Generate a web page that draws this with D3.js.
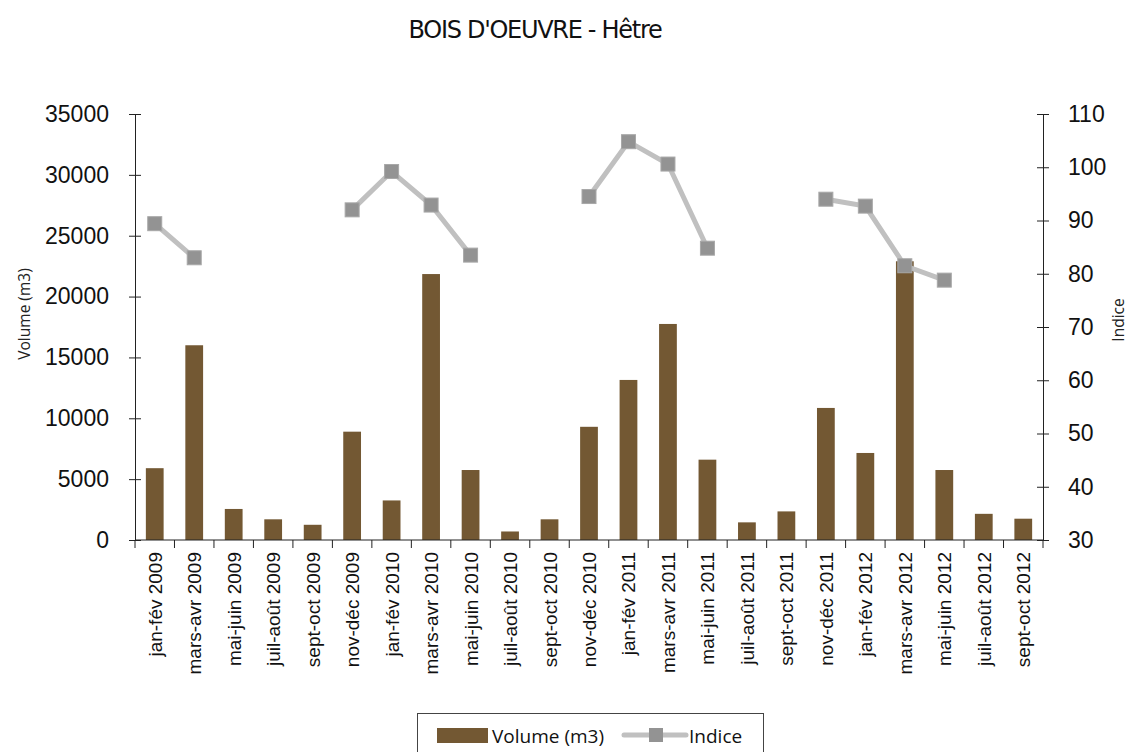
<!DOCTYPE html>
<html>
<head>
<meta charset="utf-8">
<script src="https://cdn.jsdelivr.net/npm/d3@7"></script>
<style>
  body { margin: 0; background: #fff; }
  svg { display: block; }
  .tick text { font-family: "Liberation Sans", Arial, sans-serif; fill: #111; }
</style>
</head>
<body>
<svg id="chart" width="1130" height="752"></svg>
<script>
// periods on the x axis
var periods = ["jan-fév 2009","mars-avr 2009","mai-juin 2009","juil-août 2009","sept-oct 2009","nov-déc 2009",
  "jan-fév 2010","mars-avr 2010","mai-juin 2010","juil-août 2010","sept-oct 2010","nov-déc 2010",
  "jan-fév 2011","mars-avr 2011","mai-juin 2011","juil-août 2011","sept-oct 2011","nov-déc 2011",
  "jan-fév 2012","mars-avr 2012","mai-juin 2012","juil-août 2012","sept-oct 2012"];
// volume (m3), left axis
var volume = [5900,16000,2550,1700,1250,8900,3250,21850,5750,700,1700,9300,
  13150,17750,6600,1450,2350,10850,7150,22900,5750,2150,1750];
// indice, right axis (null = no value)
var indice = [89.4,83,null,null,null,92,99.2,92.9,83.5,null,null,94.5,
  104.8,100.6,84.8,null,null,94,92.7,81.5,78.8,null,null];
var volTicks = [0,5000,10000,15000,20000,25000,30000,35000];
var indTicks = [30,40,50,60,70,80,90,100,110];

var svg = d3.select("#chart");
var pLeft = 135, pRight = 1043, pTop = 114, pBottom = 540;

var x = d3.scaleBand().domain(periods).range([pLeft, pRight]).paddingInner(0.55).paddingOuter(0.275);
var xb = d3.scaleBand().domain(periods).range([pLeft, pRight]); // tick marks at boundaries
var y = d3.scaleLinear().domain([0, 35000]).range([pBottom, pTop]);
var y2 = d3.scaleLinear().domain([30, 110]).range([pBottom, pTop]);

// title
svg.append("text").attr("x", 535).attr("y", 38).attr("text-anchor", "middle")
  .style("font-family", "'DejaVu Sans', sans-serif").style("font-size", "24px")
  .style("letter-spacing", "-1.3px").attr("fill", "#111")
  .text("BOIS D'OEUVRE - Hêtre");

// bars
svg.append("g").selectAll("rect").data(volume).enter().append("rect")
  .attr("x", function(d, i){ return x(periods[i]); })
  .attr("width", x.bandwidth())
  .attr("y", function(d){ return y(d); })
  .attr("height", function(d){ return pBottom - y(d); })
  .attr("fill", "#735833");

// left axis
var gl = svg.append("g").attr("transform", "translate(" + pLeft + ",0)")
  .call(d3.axisLeft(y).tickValues(volTicks).tickSize(6).tickPadding(20).tickFormat(d3.format("d")));
gl.selectAll(".tick line").attr("x2", 6).attr("x1", -6);
gl.selectAll("text").style("font-size", "23px");

// right axis
var gr = svg.append("g").attr("transform", "translate(" + pRight + ",0)")
  .call(d3.axisRight(y2).tickValues(indTicks).tickSize(6).tickPadding(19));
gr.selectAll(".tick line").attr("x1", -6).attr("x2", 6);
gr.selectAll("text").style("font-size", "23px");

// x axis
svg.append("line").attr("x1", pLeft).attr("x2", pRight).attr("y1", pBottom).attr("y2", pBottom).attr("stroke", "#222");
svg.append("g").selectAll("line").data(periods.concat(["end"])).enter().append("line")
  .attr("x1", function(d, i){ return i < periods.length ? xb(d) : pRight; })
  .attr("x2", function(d, i){ return i < periods.length ? xb(d) : pRight; })
  .attr("y1", pBottom).attr("y2", pBottom + 8).attr("stroke", "#222");
svg.append("g").selectAll("text").data(periods).enter().append("text")
  .attr("transform", function(d){ return "translate(" + (x(d) + x.bandwidth()/2 + 7) + "," + (pBottom + 12) + ") rotate(-90)"; })
  .attr("text-anchor", "end")
  .style("font-family", "'Liberation Sans', Arial, sans-serif").style("font-size", "19px").attr("fill", "#111")
  .text(function(d){ return d; });

svg.selectAll(".domain").attr("stroke", "#222");
svg.selectAll(".tick line").attr("stroke", "#222");

// axis titles
svg.append("text").attr("transform", "translate(30,314) rotate(-90)").attr("text-anchor", "middle")
  .style("font-family", "'Open Sans', sans-serif").style("font-size", "15.5px").attr("fill", "#222")
  .text("Volume (m3)");
svg.append("text").attr("transform", "translate(1124,320) rotate(-90)").attr("text-anchor", "middle")
  .style("font-family", "'Open Sans', sans-serif").style("font-size", "15.5px").attr("fill", "#222")
  .text("Indice");

// indice line (gaps where no value)
var line = d3.line().defined(function(d){ return d != null; })
  .x(function(d, i){ return x(periods[i]) + x.bandwidth()/2; })
  .y(function(d){ return y2(d); });
svg.append("path").datum(indice).attr("d", line)
  .attr("fill", "none").attr("stroke", "#c0c0c0").attr("stroke-width", 5);
svg.append("g").selectAll("rect").data(indice.map(function(d, i){ return {v: d, p: periods[i]}; }).filter(function(d){ return d.v != null; }))
  .enter().append("rect")
  .attr("x", function(d){ return x(d.p) + x.bandwidth()/2 - 7; })
  .attr("y", function(d){ return y2(d.v) - 7; })
  .attr("width", 14).attr("height", 14)
  .attr("fill", "#939393").attr("stroke", "#a8a8a8").attr("stroke-width", 1);

// legend
var lg = svg.append("g");
lg.append("rect").attr("x", 417.5).attr("y", 713.5).attr("width", 346).attr("height", 50)
  .attr("fill", "#fff").attr("stroke", "#444");
lg.append("rect").attr("x", 437).attr("y", 728).attr("width", 51).attr("height", 15).attr("fill", "#735833");
lg.append("text").attr("x", 492).attr("y", 743).style("font-family", "'Open Sans', sans-serif").style("font-size", "19px")
  .attr("fill", "#111").text("Volume (m3)");
lg.append("line").attr("x1", 624).attr("x2", 686).attr("y1", 735).attr("y2", 735)
  .attr("stroke", "#c0c0c0").attr("stroke-width", 5).attr("stroke-linecap", "round");
lg.append("rect").attr("x", 649).attr("y", 728).attr("width", 14).attr("height", 14).attr("fill", "#939393");
lg.append("text").attr("x", 689).attr("y", 743).style("font-family", "'Open Sans', sans-serif").style("font-size", "19px")
  .attr("fill", "#111").text("Indice");
</script>
</body>
</html>
